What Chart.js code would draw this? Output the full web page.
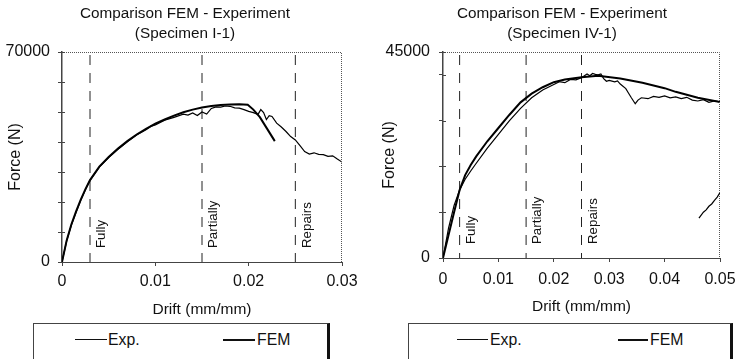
<!DOCTYPE html>
<html>
<head>
<meta charset="utf-8">
<script src="https://cdn.jsdelivr.net/npm/chart.js@4.4.0/dist/chart.umd.min.js"></script>
<style>
  body { margin: 0; width: 738px; height: 359px; overflow: hidden; background: #fff; position: relative;
         font-family: "Liberation Sans", Arial, sans-serif; color: #111; }
  canvas { position: absolute; top: 0; }
  .legend { position: absolute; top: 323px; height: 37px; box-sizing: border-box;
            border: 1px solid #444; border-right: 3px solid #111; }
  .key { position: absolute; height: 0; border-top: 1.5px solid #111; }
  .key.fem { border-top-width: 2.5px; }
  .txt { position: absolute; top: 331px; font-size: 15.8px; line-height: 18px; }
</style>
</head>
<body>
<canvas id="left" width="369" height="322" style="left:0"></canvas>
<canvas id="right" width="384" height="322" style="left:370px"></canvas>

<div class="legend" style="left:33px;width:297px"></div>
<div class="key" style="left:75px;top:339px;width:32px"></div>
<span class="txt" style="left:108px">Exp.</span>
<div class="key fem" style="left:223px;top:339px;width:32px"></div>
<span class="txt" style="left:257px">FEM</span>

<div class="legend" style="left:408px;width:325px"></div>
<div class="key" style="left:457px;top:339px;width:31px"></div>
<span class="txt" style="left:490px">Exp.</span>
<div class="key fem" style="left:618px;top:339px;width:30px"></div>
<span class="txt" style="left:650px">FEM</span>

<script>
// Specimen I-1
const leftExpDrift = [0, 0.0005, 0.001, 0.0015, 0.002, 0.0025, 0.003, 0.004, 0.005, 0.006, 0.007, 0.008, 0.009, 0.0095, 0.01,
  0.011, 0.012, 0.013, 0.0135, 0.014, 0.0145, 0.015, 0.0155, 0.016, 0.0165, 0.017, 0.0175, 0.018, 0.0185, 0.019, 0.0195,
  0.02, 0.0205, 0.021, 0.0213, 0.0216, 0.0219, 0.0222, 0.0225, 0.023, 0.0235, 0.024, 0.0245, 0.025, 0.0255, 0.026,
  0.0265, 0.027, 0.0275, 0.028, 0.0285, 0.029, 0.0295, 0.03];
const leftExpForce = [0, 7000, 12200, 16500, 20500, 24000, 27200, 31600, 34800, 37600, 40100, 42300, 44100, 45200, 45700,
  47300, 48200, 49300, 49000, 49700, 48800, 50000, 49300, 51200, 51700, 51600, 52000, 51900, 51400, 51300, 50800,
  50200, 49800, 49200, 50800, 49800, 47500, 48800, 48500, 46300, 45000, 43500, 41800, 40700, 38800, 36800,
  36000, 36400, 35900, 35800, 35200, 35400, 34300, 33300];
const leftFemDrift = [0, 0.0005, 0.001, 0.0015, 0.002, 0.0025, 0.003, 0.004, 0.005, 0.006, 0.007, 0.008, 0.009, 0.01,
  0.011, 0.012, 0.013, 0.014, 0.015, 0.016, 0.017, 0.018, 0.019, 0.0199, 0.0205, 0.0212, 0.022, 0.0228];
const leftFemForce = [0, 7200, 12500, 16800, 20700, 24200, 27300, 31800, 35000, 37800, 40300, 42500, 44400, 46100,
  47500, 48800, 49900, 50800, 51500, 52000, 52300, 52500, 52600, 52400, 50800, 48300, 44300, 40300];

// Specimen IV-1
const rightExpDrift = [0, 0.001, 0.002, 0.003, 0.004, 0.005, 0.006, 0.008, 0.01, 0.012, 0.014, 0.016, 0.018, 0.02,
  0.021, 0.022, 0.023, 0.024, 0.025, 0.026, 0.0265, 0.027, 0.0275, 0.028, 0.0285, 0.029, 0.0295, 0.03, 0.031, 0.0315,
  0.032, 0.033, 0.0335, 0.034, 0.0347, 0.0352, 0.0358, 0.037, 0.038, 0.039, 0.04, 0.041, 0.042, 0.043, 0.044, 0.045,
  0.046, 0.047, 0.048, 0.049, 0.05,
  0.05,
  0.0462, 0.047, 0.0475, 0.048, 0.0485, 0.049, 0.0495, 0.05];
const rightExpForce = [0, 6500, 11500, 14850, 17200, 19000, 20700, 24000, 27000, 30000, 32700, 35000, 36700, 37900,
  38500, 38300, 39000, 38900, 39400, 40200, 39800, 40300, 40100, 40000, 40200, 39200, 38600, 38800, 38500, 38700,
  38000, 37000, 36000, 35000, 33700, 34500, 35000, 34800, 35300, 35100, 35400, 35000, 35200, 34800, 35100, 34500,
  34300, 34600, 34000, 34300, 34100,
  null,
  8700, 10000, 10500, 11300, 11800, 12600, 13300, 14300];
const rightFemDrift = [0, 0.001, 0.002, 0.003, 0.004, 0.005, 0.006, 0.008, 0.01, 0.012, 0.014, 0.016, 0.018, 0.02,
  0.022, 0.025, 0.028, 0.032, 0.036, 0.04, 0.042, 0.046, 0.05];
const rightFemForce = [0, 5000, 10000, 14850, 18100, 20300, 22200, 25500, 28400, 31300, 34000, 35900, 37300, 38400,
  39000, 39500, 39800, 39200, 38300, 37100, 36300, 35000, 34100];

// limit states
const limitDrift = [0.003, 0.015, 0.025];
const limitLabels = ['Fully', 'Partially', 'Repairs'];

const leftXTicks = [0, 0.01, 0.02, 0.03];
const leftYTicks = [0, 10000, 20000, 30000, 40000, 50000, 60000, 70000];
const rightXTicks = [0, 0.01, 0.02, 0.03, 0.04, 0.05];
const rightYTicks = [0, 10000, 20000, 30000, 40000, 45000];

const FONT = '"Liberation Sans", Arial, sans-serif';
const INK = '#111';

function toPoints(xs, ys) {
  return xs.map((x, i) => ({ x: x, y: ys[i] }));
}

// title, dotted top/right frame, inner y ticks and the rotated limit labels
const framePlugin = {
  id: 'frame',
  afterDraw(chart, args, opts) {
    const { ctx, chartArea: a, scales } = chart;
    ctx.save();
    ctx.strokeStyle = '#555';
    ctx.lineWidth = 1;
    ctx.setLineDash([1, 1]);
    ctx.beginPath();
    ctx.moveTo(a.left, a.top + 0.5);
    ctx.lineTo(a.right - 0.5, a.top + 0.5);
    ctx.lineTo(a.right - 0.5, a.bottom);
    ctx.stroke();
    ctx.setLineDash([]);

    // ticks poke into the plot a little
    ctx.strokeStyle = '#444';
    ctx.beginPath();
    scales.y.ticks.forEach(t => {
      const y = Math.round(scales.y.getPixelForValue(t.value)) + 0.5;
      ctx.moveTo(a.left, y);
      ctx.lineTo(a.left + 3, y);
    });
    ctx.stroke();

    ctx.fillStyle = INK;
    ctx.font = '15.3px ' + FONT;
    ctx.textAlign = 'center';
    ctx.textBaseline = 'middle';
    ctx.fillText(opts.lines[0], opts.cx, 13.5);
    ctx.fillText(opts.lines[1], opts.cx, 34);

    ctx.font = '13.3px ' + FONT;
    ctx.textAlign = 'left';
    ctx.textBaseline = 'top';
    limitDrift.forEach((d, i) => {
      const x = scales.x.getPixelForValue(d) + 5;
      ctx.save();
      ctx.translate(x, a.bottom - 14);
      ctx.rotate(-Math.PI / 2);
      ctx.fillText(limitLabels[i], 0, 0);
      ctx.restore();
    });
    ctx.restore();
  }
};

function makeChart(id, cfg) {
  const datasets = [
    { label: 'Exp.', data: toPoints(cfg.expX, cfg.expY), borderColor: '#000', borderWidth: 1.2 },
    { label: 'FEM', data: toPoints(cfg.femX, cfg.femY), borderColor: '#000', borderWidth: 2 }
  ];
  limitDrift.forEach(d => {
    datasets.push({
      label: 'limit', data: [{ x: d, y: cfg.yMax }, { x: d, y: 0 }],
      borderColor: '#222', borderWidth: 1, borderDash: [10, 8], borderDashOffset: 15
    });
  });

  return new Chart(document.getElementById(id), {
    type: 'scatter',
    data: { datasets: datasets },
    options: {
      responsive: false,
      animation: false,
      showLine: true,
      elements: { point: { radius: 0 }, line: { tension: 0 } },
      layout: { padding: { left: 0, right: cfg.padRight, top: 52, bottom: 0 } },
      plugins: {
        legend: { display: false },
        tooltip: { enabled: false },
        title: { display: false },
        frame: { lines: cfg.title, cx: cfg.titleX }
      },
      scales: {
        x: {
          type: 'linear',
          min: 0,
          max: cfg.xMax,
          afterBuildTicks: s => { s.ticks = cfg.xTicks.map(v => ({ value: v })); },
          afterFit: s => { s.height = cfg.xHeight; },
          ticks: { color: INK, font: { family: FONT, size: 16 }, padding: cfg.xTickPad, maxRotation: 0,
                   callback: v => String(v) },
          grid: { drawOnChartArea: false, tickLength: 4, color: '#444' },
          border: { color: '#444', width: 1 },
          title: { display: true, text: 'Drift (mm/mm)', color: INK,
                   font: { family: FONT, size: 15.5 }, padding: { top: 0, bottom: cfg.xTitlePad } }
        },
        y: {
          min: 0,
          max: cfg.yMax,
          afterBuildTicks: s => { s.ticks = cfg.yTicks.map(v => ({ value: v })); },
          afterFit: s => { s.width = cfg.yWidth; },
          ticks: { color: INK, font: { family: FONT, size: 16 }, padding: cfg.yTickPad,
                   callback: v => (v === 0 || v === cfg.yMax) ? String(v) : '' },
          grid: { drawOnChartArea: false, tickLength: 4, color: '#444' },
          border: { color: '#444', width: 1.5 },
          title: { display: true, text: 'Force (N)', color: INK,
                   font: { family: FONT, size: 16 }, padding: { top: cfg.yTitlePad, bottom: 0 } }
        }
      }
    },
    plugins: [framePlugin]
  });
}

makeChart('left', {
  title: ['Comparison FEM - Experiment', '(Specimen I-1)'], titleX: 185,
  expX: leftExpDrift, expY: leftExpForce, femX: leftFemDrift, femY: leftFemForce,
  xMax: 0.03, yMax: 70000, xTicks: leftXTicks, yTicks: leftYTicks,
  padRight: 27, yWidth: 62, xHeight: 60,
  xTickPad: 6.4, yTickPad: 8, xTitlePad: 2.7, yTitlePad: 6.4
});

makeChart('right', {
  title: ['Comparison FEM - Experiment', '(Specimen IV-1)'], titleX: 192,
  expX: rightExpDrift, expY: rightExpForce, femX: rightFemDrift, femY: rightFemForce,
  xMax: 0.05, yMax: 45000, xTicks: rightXTicks, yTicks: rightYTicks,
  padRight: 34, yWidth: 73, xHeight: 64,
  xTickPad: 8.4, yTickPad: 9, xTitlePad: 5.7, yTitlePad: 10.4
});
</script>
</body>
</html>
